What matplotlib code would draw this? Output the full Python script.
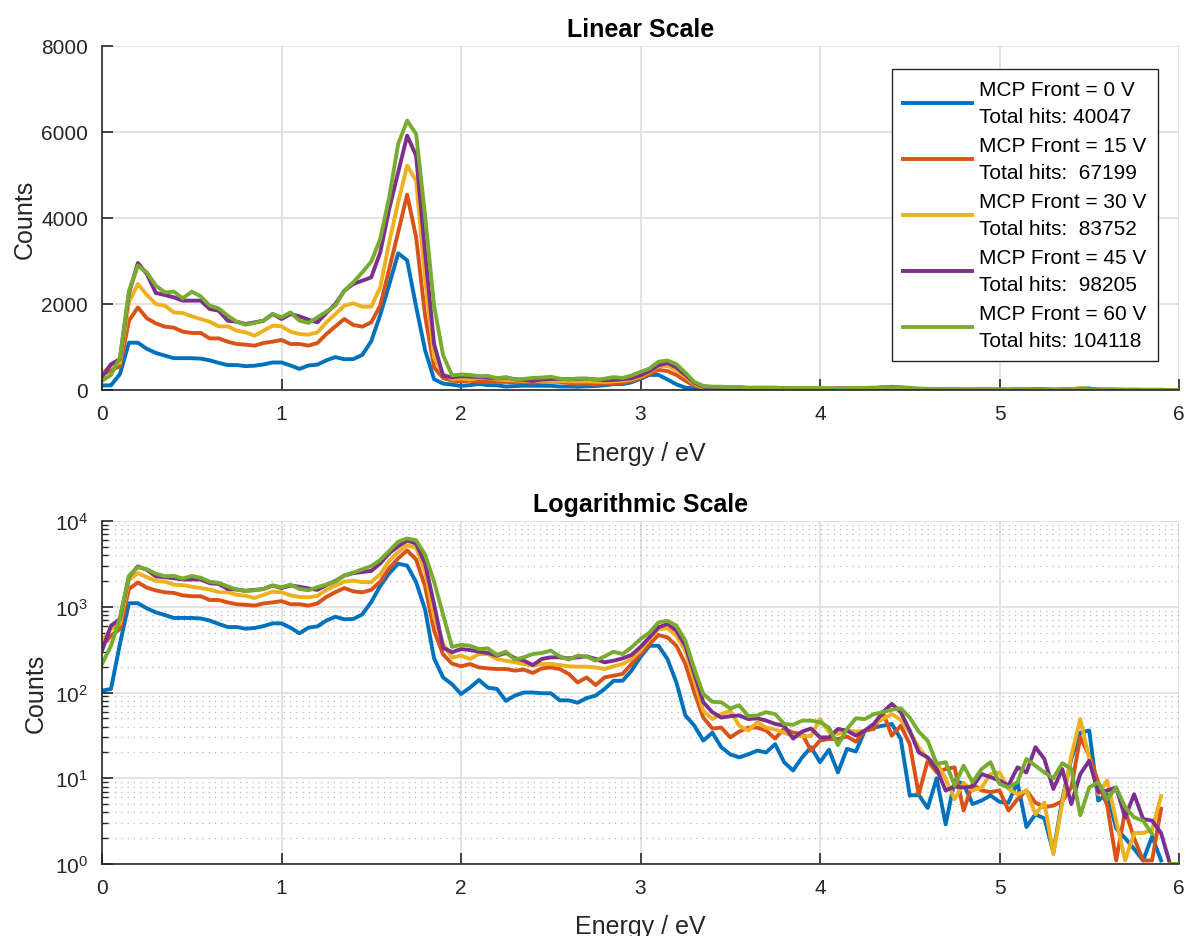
import numpy as np
import matplotlib
matplotlib.use("Agg")
import matplotlib.pyplot as plt
from matplotlib.ticker import LogLocator, NullFormatter

plt.rcParams['font.family'] = ['Liberation Sans', 'DejaVu Sans']

energy = np.round(np.arange(0, 6.0001, 0.05), 2)

labels = ["MCP Front = 0 V\nTotal hits: 40047",
          "MCP Front = 15 V\nTotal hits:  67199",
          "MCP Front = 30 V\nTotal hits:  83752",
          "MCP Front = 45 V\nTotal hits:  98205",
          "MCP Front = 60 V\nTotal hits: 104118"]

counts_0V = [105, 110, 370, 1100, 1100, 957, 861, 800, 740, 740,
             740, 730, 690, 630, 580, 580, 555, 565, 595, 640,
             640, 570, 490, 570, 590, 690, 765, 715, 720, 815,
             1135, 1745, 2450, 3180, 3015, 1940, 925, 250, 150, 125,
             96, 114, 140, 114, 110, 80, 92, 100, 100, 98, 98, 81, 81, 76, 86, 92, 110, 137, 137, 180, 260,
             351, 351, 246, 131, 54, 41, 27.5, 34, 23, 19, 17.5, 19, 21, 20, 25, 15.4, 12.3, 17.5, 23, 15.4,
             21.5, 11.7, 22, 20.5, 36, 39, 41, 43, 28.7, 6.3, 6.4, 4.5, 10, 2.9, 9.4, 8.6, 5, 5.5, 6.3, 5.3,
             5.2, 9, 2.7, 3.8, 3.4, 1.37, 5.7, 16.8, 34, 36, 5.5, 6.5, 2.6, 2.0, 1.5, 1.1, 2.1, 1.1, 0, 0]

counts_15V = [350, 460, 550, 1610, 1920, 1667, 1550, 1473, 1450, 1357,
              1326, 1326, 1200, 1200, 1124, 1070, 1054, 1031, 1093, 1124,
              1163, 1070, 1070, 1031, 1093, 1302, 1480, 1651, 1512, 1473,
              1573, 1960, 2814, 3667, 4543, 3550, 1730, 527, 279, 217,
              202, 215, 196, 191, 188, 188, 180, 185, 169, 191, 196, 188, 165, 131, 150, 122, 150, 157, 165, 215, 281,
              367, 468, 440, 351, 215, 100, 51, 38, 39, 30, 35, 39, 39, 36, 29, 38, 34, 33, 21, 27.5,
              28.7, 28.7, 30.7, 26.7, 35.9, 37.6, 59, 31.4, 41, 25, 6.5, 16, 11.7, 12.8, 13.4, 4.2, 8.6, 7.2, 6.9, 7.2,
              4.2, 5.7, 7.2, 5.2, 4.6, 4.8, 5.4, 7.8, 30, 18.3, 9, 4.8, 1.1, 4.2, 2.0, 1.1, 1.1, 4.4, 0, 0]

counts_30V = [400, 550, 630, 2040, 2465, 2209, 2000, 1961, 1806, 1790,
              1713, 1651, 1589, 1480, 1480, 1380, 1341, 1263, 1380, 1496,
              1480, 1357, 1302, 1287, 1341, 1573, 1767, 1961, 2016, 1938,
              1938, 2388, 3434, 4364, 5217, 4868, 2580, 760, 372, 256,
              269, 246, 281, 281, 246, 235, 225, 215, 206, 215, 215, 209, 202, 200, 200, 196, 188, 202, 215, 246, 310,
              421, 551, 561, 460, 308, 137, 61, 49, 56, 61, 41, 36, 45, 39, 37, 34, 31, 31, 31, 49,
              34.4, 32.9, 35.9, 35, 35.9, 43, 49, 56, 47.9, 34.4, 23, 16.8, 15.4, 9.8, 5.7, 8.8, 7.2, 7.8, 11.2, 11.7,
              7.5, 6.5, 7.2, 3.8, 5.2, 1.3, 5.2, 18.3, 49, 16.8, 6.5, 9.4, 3.2, 1.1, 2.3, 2.3, 2.5, 6.2, 0, 0]

counts_45V = [307, 600, 720, 2250, 2953, 2698, 2256, 2209, 2155, 2078,
              2078, 2078, 1884, 1845, 1612, 1589, 1535, 1573, 1612, 1767,
              1651, 1767, 1713, 1636, 1573, 1790, 2000, 2310, 2465, 2542,
              2620, 3200, 4209, 5062, 5915, 5450, 3200, 1070, 333, 295,
              321, 313, 299, 289, 269, 289, 252, 235, 209, 246, 257, 257, 250, 257, 264, 246, 225, 235, 250, 274, 340,
              440, 575, 630, 526, 351, 165, 77, 59, 51, 53, 54, 49, 50, 47, 43, 41, 29, 35, 38, 30,
              29.9, 37.6, 35.9, 31.4, 35.9, 43, 59, 73.5, 59, 35.9, 20, 17.5, 12.8, 7.2, 8.0, 7.8, 8.0, 11.2, 10.3, 9.4,
              8.2, 13.4, 11.7, 23, 16.8, 7.5, 12.8, 5, 11.2, 16, 6.9, 7.2, 7.8, 3.5, 6.5, 3.35, 3.2, 2.3, 1, 0]

counts_60V = [215, 350, 750, 2300, 2891, 2736, 2426, 2271, 2287, 2132,
              2287, 2178, 1961, 1899, 1729, 1589, 1519, 1558, 1612, 1767,
              1690, 1806, 1612, 1558, 1690, 1822, 1961, 2310, 2504, 2736,
              2984, 3512, 4481, 5721, 6264, 5954, 4054, 1961, 814, 340,
              360, 351, 321, 327, 274, 299, 242, 257, 281, 289, 308, 264, 242, 269, 262, 235, 264, 299, 281, 336, 420,
              500, 657, 687, 601, 402, 188, 96, 78, 77, 65, 71, 53, 54, 59, 56, 43, 42, 47, 47, 45,
              39, 24.4, 37.6, 50, 49, 56, 59, 63, 65.4, 51, 35, 27.4, 14.7, 15.4, 8.2, 14, 9, 12.8, 15.4, 8.6,
              7.8, 9, 16.8, 14, 11.7, 10, 15, 12.8, 3.7, 7.8, 9, 5.7, 7.8, 4.6, 3.5, 3.2, 2.24, 0, 1, 1]

series = [counts_0V, counts_15V, counts_30V, counts_45V, counts_60V]
colors = ['#0072BD', '#D95319', '#EDB120', '#7E2F8E', '#77AC30']

axis_color = '#262626'
grid_color = '#dedede'

fig = plt.figure(figsize=(11.87, 9.37), dpi=100)
ax1 = fig.add_axes([102/1187, (937-391)/937, 1077/1187, 344/937])
ax2 = fig.add_axes([102/1187, (937-865)/937, 1077/1187, 343/937])

for ax in (ax1, ax2):
    for s in ('top', 'right'):
        ax.spines[s].set_visible(False)
    for s in ('left', 'bottom'):
        ax.spines[s].set_color(axis_color)
        ax.spines[s].set_linewidth(1.2)
    ax.tick_params(which='major', direction='in', length=8, width=1.2,
                   color=axis_color, labelcolor=axis_color, labelsize=15)
    ax.tick_params(axis='x', which='major', pad=10)
    ax.tick_params(axis='y', which='major', pad=10)
    ax.set_xlim(0, 6)
    ax.set_xticks(range(0, 7))
    ax.set_axisbelow(True)
    ax.grid(True, which='major', color=grid_color, linewidth=1.2, linestyle='-')

# Linear
for vals, c, lab in zip(series, colors, labels):
    ax1.plot(energy, vals, color=c, lw=2.8, label=lab)
ax1.set_ylim(0, 8000)
ax1.set_yticks([0, 2000, 4000, 6000, 8000])
ax1.set_title('Linear Scale', fontsize=18, fontweight='bold', color='black', pad=7)
ax1.set_xlabel('Energy / eV', fontsize=18, color=axis_color, labelpad=13)
ax1.set_ylabel('Counts', fontsize=18, color=axis_color, labelpad=3)
leg = ax1.legend(loc='upper right', bbox_to_anchor=((1158-102)/1077, (391-70)/344),
                 borderaxespad=0, fontsize=15, frameon=True, fancybox=False,
                 edgecolor=axis_color, framealpha=1, handlelength=3.3,
                 labelspacing=0.5, borderpad=0.55, handletextpad=0.35)
for t in leg.get_texts():
    t.set_linespacing(1.5)
    t.set_color('black')
leg.get_frame().set_linewidth(1.0)

# Log
for vals, c in zip(series, colors):
    v = np.array(vals, dtype=float)
    v = np.where(v > 0, v, np.nan)
    ax2.plot(energy, v, color=c, lw=2.8)
ax2.set_yscale('log')
ax2.set_ylim(1, 1e4)
ax2.yaxis.set_major_locator(LogLocator(base=10, numticks=10))
ax2.yaxis.set_minor_locator(LogLocator(base=10, subs=np.arange(2, 10), numticks=20))
ax2.yaxis.set_minor_formatter(NullFormatter())
ax2.tick_params(which='minor', axis='y', direction='in', length=4, width=1.0, color=axis_color)
ax2.grid(True, which='minor', axis='y', color='#b8b8b8', linewidth=0.9, linestyle=(0, (1, 4)))
ax2.set_title('Logarithmic Scale', fontsize=18, fontweight='bold', color='black', pad=7)
ax2.set_xlabel('Energy / eV', fontsize=18, color=axis_color, labelpad=12)
ax2.set_ylabel('Counts', fontsize=18, color=axis_color, labelpad=5)

fig.savefig('out.png', dpi=100)
